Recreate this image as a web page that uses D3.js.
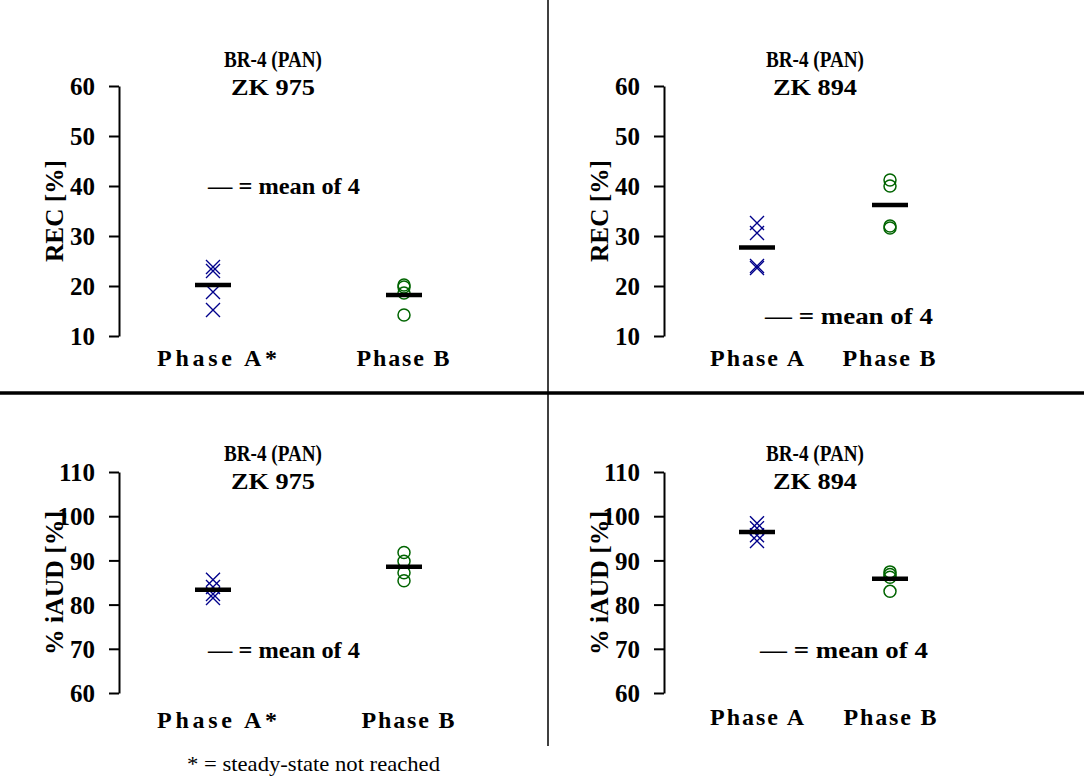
<!DOCTYPE html>
<html><head><meta charset="utf-8">
<script src="https://cdn.jsdelivr.net/npm/d3@7"></script>
<style>
body{margin:0;background:#fff;}
svg text{font-family:"Liberation Serif","Times New Roman",serif;fill:#000;}
</style></head>
<body>
<svg id="chart" width="1084" height="780"></svg>
<script>
// ---- data ----
const phases = ["Phase A", "Phase B"];
const titles = ["BR-4 (PAN)", "BR-4 (PAN)", "BR-4 (PAN)", "BR-4 (PAN)"];
const subtitles = ["ZK 975", "ZK 894", "ZK 975", "ZK 894"];
const phaseLabels = [["Phase A*", "Phase B"], ["Phase A", "Phase B"], ["Phase A*", "Phase B"], ["Phase A", "Phase B"]];
const yLabels = ["REC [%]", "REC [%]", "% iAUD [%]", "% iAUD [%]"];
const recTicks = [10, 20, 30, 40, 50, 60];
const iaudTicks = [60, 70, 80, 90, 100, 110];
// REC values (4 subjects each)
const recZK975A = [23.8, 23.0, 18.8, 15.2];
const recZK975B = [20.2, 19.8, 18.6, 14.2];
const recZK894A = [32.6, 30.6, 24.0, 23.6];
const recZK894B = [41.2, 40.0, 32.0, 31.6];
// %iAUD values
const iaudZK975A = [85.6, 84.0, 82.4, 81.5];
const iaudZK975B = [91.8, 89.8, 87.2, 85.4];
const iaudZK894A = [98.4, 97.3, 95.7, 94.4];
const iaudZK894B = [87.4, 86.8, 86.2, 83.0];
const legendText = "— = mean of 4";
const footnote = "* = steady-state not reached";

const svg = d3.select("#chart");
const navy = "#00008B", green = "#006400";

const panels = [
  {axisX: 119, yTop: 86, yBot: 336, ticks: recTicks, A: recZK975A, B: recZK975B, xr: [213, 404], lblX: [217, 403], lblY: 366, titleX: 273, titleY: 67, legX: 208, legY: 194, yLblX: 63, yLblY: 211},
  {axisX: 664, yTop: 86, yBot: 336, ticks: recTicks, A: recZK894A, B: recZK894B, xr: [757, 890], lblX: [757, 889], lblY: 366, titleX: 815, titleY: 67, legX: 765, legY: 324, yLblX: 608, yLblY: 211},
  {axisX: 119, yTop: 472, yBot: 693, ticks: iaudTicks, A: iaudZK975A, B: iaudZK975B, xr: [213, 404], lblX: [217, 408], lblY: 728, titleX: 273, titleY: 461, legX: 208, legY: 658, yLblX: 63, yLblY: 583},
  {axisX: 664, yTop: 472, yBot: 693, ticks: iaudTicks, A: iaudZK894A, B: iaudZK894B, xr: [757, 890], lblX: [757, 890], lblY: 725, titleX: 815, titleY: 461, legX: 760, legY: 658, yLblX: 608, yLblY: 583}
];
const labelWidths = {"Phase A*": 120, "Phase A": 94, "Phase B": 93};
const yLabelWidths = {"REC [%]": 102, "% iAUD [%]": 144};

// dividers
svg.append("line").attr("x1", 548).attr("x2", 548).attr("y1", 0).attr("y2", 746)
  .attr("stroke", "#000").attr("stroke-width", 1.5);
svg.append("line").attr("x1", 0).attr("x2", 1084).attr("y1", 393).attr("y2", 393)
  .attr("stroke", "#000").attr("stroke-width", 3.5);

panels.forEach((p, i) => {
  const g = svg.append("g");
  const y = d3.scaleLinear().domain(d3.extent(p.ticks)).range([p.yBot, p.yTop]);
  const x = d3.scalePoint().domain(phases).range(p.xr);
  const ax = d3.axisLeft(y).tickValues(p.ticks).tickSize(10).tickPadding(14).tickSizeOuter(0);
  const axG = g.append("g").attr("transform", `translate(${p.axisX},0)`).call(ax);
  axG.attr("font-family", null).attr("font-size", null);
  axG.select(".domain").attr("stroke", "#000").attr("stroke-width", 2);
  axG.selectAll(".tick line").attr("stroke", "#000").attr("stroke-width", 2);
  axG.selectAll(".tick text").style("font-size", "25px").style("font-weight", "bold")
    .attr("dy", "0.35em");

  // titles
  g.append("text").attr("x", p.titleX).attr("y", p.titleY).attr("text-anchor", "middle")
    .style("font-size", "24px").style("font-weight", "bold")
    .attr("textLength", 98).attr("lengthAdjust", "spacingAndGlyphs").text(titles[i]);
  g.append("text").attr("x", p.titleX).attr("y", p.titleY + 28).attr("text-anchor", "middle")
    .style("font-size", "24px").style("font-weight", "bold")
    .attr("textLength", 84).attr("lengthAdjust", "spacingAndGlyphs").text(subtitles[i]);

  // y label
  g.append("text").attr("transform", `translate(${p.yLblX},${p.yLblY}) rotate(-90)`)
    .attr("text-anchor", "middle").style("font-size", "25px").style("font-weight", "bold")
    .attr("textLength", yLabelWidths[yLabels[i]]).attr("lengthAdjust", "spacingAndGlyphs")
    .text(yLabels[i]);

  // x labels
  phaseLabels[i].forEach((t, j) => {
    g.append("text").attr("x", p.lblX[j]).attr("y", p.lblY).attr("text-anchor", "middle")
      .style("font-size", "24px").style("font-weight", "bold")
      .attr("textLength", labelWidths[t]).attr("lengthAdjust", "spacing").text(t);
  });

  // crosses (Phase A)
  const s = 7;
  p.A.forEach(v => {
    const cx = x("Phase A"), cy = y(v);
    g.append("path").attr("d", `M${cx - s},${cy - s}L${cx + s},${cy + s}M${cx - s},${cy + s}L${cx + s},${cy - s}`)
      .attr("stroke", navy).attr("stroke-width", 1.4).attr("fill", "none");
  });
  // circles (Phase B)
  p.B.forEach(v => {
    g.append("circle").attr("cx", x("Phase B")).attr("cy", y(v)).attr("r", 6)
      .attr("stroke", green).attr("stroke-width", 1.5).attr("fill", "none");
  });
  // mean bars
  [["Phase A", p.A], ["Phase B", p.B]].forEach(([k, arr]) => {
    const m = d3.mean(arr);
    g.append("line").attr("x1", x(k) - 18).attr("x2", x(k) + 18).attr("y1", y(m)).attr("y2", y(m))
      .attr("stroke", "#000").attr("stroke-width", 4.5);
  });

  // legend
  g.append("text").attr("x", p.legX).attr("y", p.legY).style("font-size", "23px").style("font-weight", "bold")
    .attr("textLength", i === 0 || i === 2 ? 152 : 168).attr("lengthAdjust", "spacingAndGlyphs").text(legendText);
});

svg.append("text").attr("x", 187).attr("y", 771).style("font-size", "21px")
  .attr("textLength", 253).attr("lengthAdjust", "spacingAndGlyphs").text(footnote);
</script>
</body></html>
